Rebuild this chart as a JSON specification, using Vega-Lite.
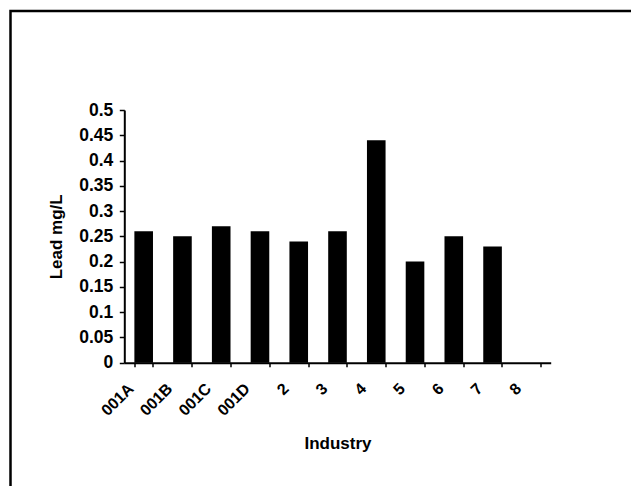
{
  "$schema": "https://vega.github.io/schema/vega-lite/v6.json",
  "autosize": "none",
  "padding": {"left": 10.5, "top": 11, "right": -8, "bottom": -8},
  "width": 628.5,
  "height": 483,
  "background": "white",
  "config": {
    "font": "Liberation Sans",
    "view": {"stroke": "black", "strokeWidth": 2.5}
  },
  "data": {
    "values": [
      {"industry": "001A", "lead": 0.26},
      {"industry": "001B", "lead": 0.25},
      {"industry": "001C", "lead": 0.27},
      {"industry": "001D", "lead": 0.26},
      {"industry": "2", "lead": 0.24},
      {"industry": "3", "lead": 0.26},
      {"industry": "4", "lead": 0.44},
      {"industry": "5", "lead": 0.2},
      {"industry": "6", "lead": 0.25},
      {"industry": "7", "lead": 0.23}
    ]
  },
  "mark": {"type": "bar", "color": "black"},
  "encoding": {
    "x": {
      "field": "industry",
      "type": "nominal",
      "sort": null,
      "scale": {
        "domain": ["001A", "001B", "001C", "001D", "2", "3", "4", "5", "6", "7", "8"],
        "range": [113.8, 540.2],
        "paddingInner": 0.52,
        "paddingOuter": 0.26
      },
      "axis": {
        "title": "Industry",
        "offset": -131.3,
        "domainColor": "black",
        "domainWidth": 2,
        "tickColor": "black",
        "tickWidth": 1.5,
        "tickSize": 4,
        "tickBand": "extent",
        "labelAngle": -45,
        "labelAlign": "right",
        "labelBaseline": "middle",
        "labelOffset": -13,
        "labelPadding": 19,
        "labelFontSize": 16,
        "labelFontWeight": "bold",
        "labelColor": "black",
        "labelFont": "Liberation Sans",
        "titleFontSize": 17,
        "titleFontWeight": "bold",
        "titleColor": "black",
        "titleFont": "Liberation Sans",
        "titlePadding": 17
      }
    },
    "y": {
      "field": "lead",
      "type": "quantitative",
      "scale": {"domain": [0, 0.5], "range": [351.7, 99], "nice": false, "zero": true},
      "axis": {
        "title": "Lead mg/L",
        "offset": -113.8,
        "values": [0, 0.05, 0.1, 0.15, 0.2, 0.25, 0.3, 0.35, 0.4, 0.45, 0.5],
        "format": "~g",
        "grid": false,
        "domainColor": "black",
        "domainWidth": 2,
        "tickColor": "black",
        "tickWidth": 1.5,
        "tickSize": 5,
        "labelPadding": 6.5,
        "labelFontSize": 17.5,
        "labelFontWeight": "bold",
        "labelColor": "black",
        "labelFont": "Liberation Sans",
        "titleFontSize": 17,
        "titleFontWeight": "bold",
        "titleColor": "black",
        "titleFont": "Liberation Sans",
        "titlePadding": 13
      }
    }
  }
}
